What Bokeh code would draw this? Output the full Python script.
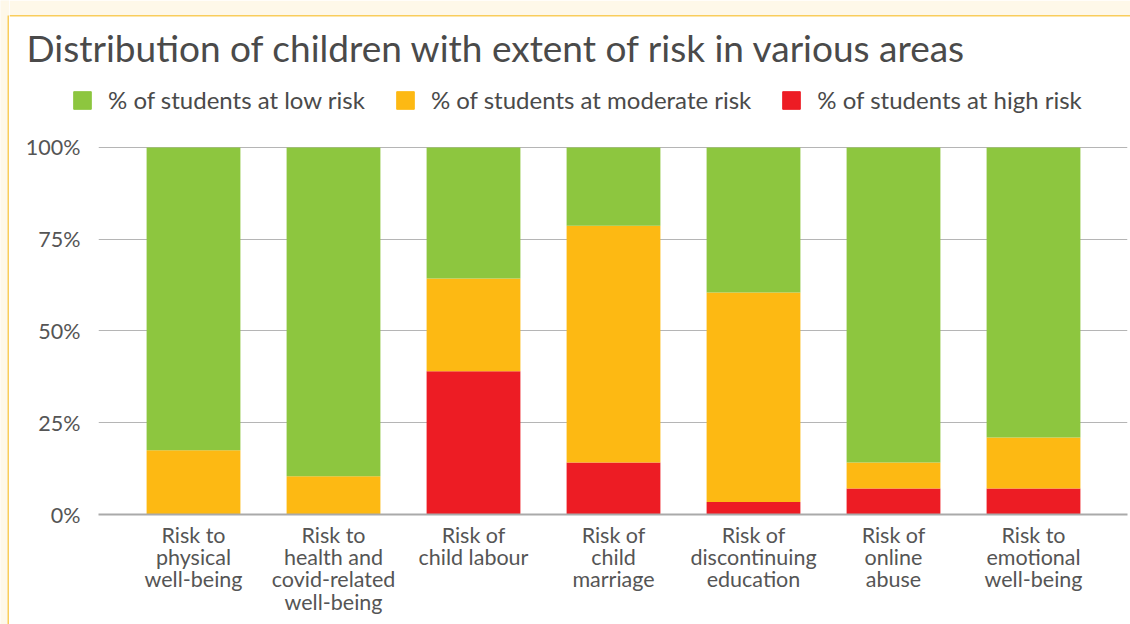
from bokeh.plotting import figure
from bokeh.models import (Range1d, Legend, LegendItem, FixedTicker, ColumnDataSource,
                          Label, BoxAnnotation)
from bokeh.layouts import row, column
from bokeh.embed import file_html
from bokeh.resources import INLINE

categories = ["Risk to\nphysical\nwell-being",
              "Risk to\nhealth and\ncovid-related\nwell-being",
              "Risk of\nchild labour",
              "Risk of\nchild\nmarriage",
              "Risk of\ndiscontinuing\neducation",
              "Risk of\nonline\nabuse",
              "Risk to\nemotional\nwell-being"]
low = [82.5, 89.6, 35.7, 21.3, 39.5, 85.8, 79.0]
moderate = [17.5, 10.4, 25.3, 64.5, 57.1, 7.1, 13.9]
high = [0.0, 0.0, 39.0, 14.2, 3.4, 7.1, 7.1]
series_names = ["% of students at low risk", "% of students at moderate risk", "% of students at high risk"]
title_text = "Distribution of children with extent of risk in various areas"
y_ticks = [0, 25, 50, 75, 100]
y_tick_labels = ["0%", "25%", "50%", "75%", "100%"]

colors = {"low": "#8DC63F", "moderate": "#FDB913", "high": "#ED1C24"}
FONT = "Lato"
CREAM = "#FEF8E9"
BORDER = "#F9CD5C"
HEADER_H = 125

x = list(range(len(categories)))
src = ColumnDataSource(dict(x=x, low=low, moderate=moderate, high=high))


def bare(fig):
    fig.outline_line_color = None
    fig.grid.visible = False
    fig.frame_align = False


# ---------------- left decorative strip ----------------
strip = figure(width=9, height=624, output_backend="svg", toolbar_location=None,
               x_range=Range1d(0, 9), y_range=Range1d(0, 624),
               x_axis_type=None, y_axis_type=None,
               min_border_left=0, min_border_right=0, min_border_top=0, min_border_bottom=0)
bare(strip)
strip.background_fill_color = CREAM
strip.border_fill_color = CREAM
strip.add_layout(BoxAnnotation(left=7, right=9, top=609, fill_color=BORDER,
                               fill_alpha=1, line_color=None))

# ---------------- header (title + legend) ----------------
header = figure(width=1121, height=HEADER_H, output_backend="svg", toolbar_location=None,
                x_range=Range1d(0, 1121), y_range=Range1d(0, HEADER_H),
                x_axis_type=None, y_axis_type=None,
                min_border_left=0, min_border_right=0, min_border_top=0, min_border_bottom=0)
bare(header)
header.add_layout(BoxAnnotation(bottom=HEADER_H - 15, fill_color=CREAM, fill_alpha=1,
                                line_color=None))
header.add_layout(BoxAnnotation(bottom=HEADER_H - 16, top=HEADER_H - 14.5, fill_color=BORDER,
                                fill_alpha=1, line_color=None))

# legend proxies (no visible data of their own)
hsrc = ColumnDataSource(dict(x=[float("nan")], top=[float("nan")]))
h_low = header.vbar(x="x", top="top", width=1, source=hsrc, color=colors["low"])
h_mod = header.vbar(x="x", top="top", width=1, source=hsrc, color=colors["moderate"])
h_high = header.vbar(x="x", top="top", width=1, source=hsrc, color=colors["high"])

header.add_layout(Label(x=17, y=HEADER_H - 47, x_units="screen", y_units="screen",
                        text=title_text, text_font=FONT, text_font_size="37px",
                        text_color="#4a4a4a", text_baseline="alphabetic"))

legend = Legend(items=[LegendItem(label=series_names[0], renderers=[h_low]),
                       LegendItem(label=series_names[1], renderers=[h_mod]),
                       LegendItem(label=series_names[2], renderers=[h_high])],
                orientation="horizontal", location=(62, HEADER_H - 114))
legend.label_text_font = FONT
legend.label_text_font_size = "24px"
legend.label_text_color = "#4a4a4a"
legend.glyph_width = 22
legend.glyph_height = 22
legend.label_standoff = 15
legend.spacing = 29
legend.padding = 0
legend.margin = 0
legend.border_line_color = None
legend.background_fill_alpha = 0
header.add_layout(legend, "center")

# ---------------- main chart ----------------
p = figure(width=1121, height=624 - HEADER_H, output_backend="svg", toolbar_location=None,
           x_range=Range1d(-0.6786, 6.6714), y_range=Range1d(0, 100.54),
           min_border_left=89, min_border_right=3, min_border_bottom=110,
           min_border_top=145 - HEADER_H)
p.frame_align = False

p.vbar_stack(["high", "moderate", "low"], x="x", width=0.67, source=src,
             color=[colors["high"], colors["moderate"], colors["low"]], line_width=0)

p.xgrid.grid_line_color = None
p.ygrid.grid_line_color = "#b5b5b5"
p.ygrid.grid_line_width = 1.2
p.ygrid.ticker = FixedTicker(ticks=y_ticks)
p.outline_line_color = None

p.yaxis.ticker = FixedTicker(ticks=y_ticks)
p.yaxis.major_label_overrides = {t: l for t, l in zip(y_ticks, y_tick_labels)}
p.yaxis.axis_line_color = None
p.yaxis.major_tick_line_color = None
p.yaxis.minor_tick_line_color = None
p.yaxis.major_label_standoff = 12
p.yaxis.major_label_text_font = FONT
p.yaxis.major_label_text_font_size = "21.5px"
p.yaxis.major_label_text_color = "#555555"

p.xaxis.ticker = FixedTicker(ticks=x)
p.xaxis.major_label_overrides = {i: c for i, c in zip(x, categories)}
p.xaxis.axis_line_color = "#aaaaaa"
p.xaxis.axis_line_width = 2
p.xaxis.major_tick_line_color = None
p.xaxis.minor_tick_line_color = None
p.xaxis.major_label_standoff = 1
p.xaxis.major_label_text_font = FONT
p.xaxis.major_label_text_font_size = "21.5px"
p.xaxis.major_label_text_color = "#555555"
p.xaxis.major_label_text_line_height = 0.86

layout = row(strip, column(header, p, spacing=0), spacing=0)
open("out.html", "w").write(file_html(layout, INLINE))
